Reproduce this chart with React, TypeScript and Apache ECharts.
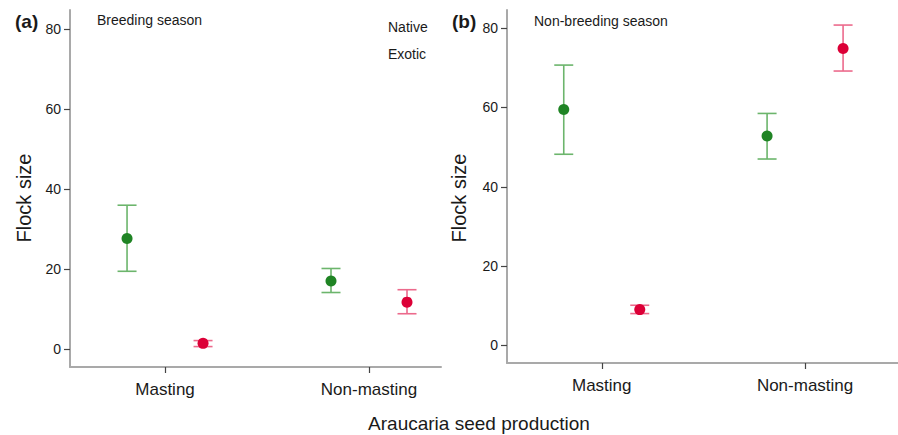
import React, { useEffect, useRef } from "react";
import * as echarts from "echarts";

const categories = ["Masting", "Non-masting"];
const yTicks = [0, 20, 40, 60, 80];

// Breeding season (a)
const breedingNativeMean = [27.7, 17.1];
const breedingNativeLow = [19.5, 14.2];
const breedingNativeHigh = [36.0, 20.2];
const breedingExoticMean = [1.5, 11.8];
const breedingExoticLow = [0.7, 8.9];
const breedingExoticHigh = [2.2, 14.9];

// Non-breeding season (b)
const nonBreedingNativeMean = [59.5, 52.8];
const nonBreedingNativeLow = [48.2, 47.0];
const nonBreedingNativeHigh = [70.7, 58.5];
const nonBreedingExoticMean = [9.0, 74.9];
const nonBreedingExoticLow = [8.0, 69.2];
const nonBreedingExoticHigh = [10.1, 80.8];

const GREEN = "#1f8424";
const GREEN_LINE = "#6cb56c";
const RED = "#dc0037";
const RED_LINE = "#ec6a8c";
const TEXT = "#1a1a1a";
const FONT = "'Liberation Sans', Arial, sans-serif";

function rows(mean: number[], low: number[], high: number[]) {
  return categories.map((_, i) => [i + 1, mean[i], low[i], high[i]]);
}

function errSeries(name: string, idx: number, data: number[][], color: string, offset: number) {
  return {
    name,
    type: "custom",
    xAxisIndex: idx,
    yAxisIndex: idx,
    encode: { x: 0, y: [2, 3] },
    data,
    renderItem: (_params: any, api: any) => {
      const x = api.value(0);
      const pLo = api.coord([x, api.value(2)]);
      const pHi = api.coord([x, api.value(3)]);
      const cx = pLo[0] + offset;
      const w = 9.5;
      const style = { stroke: color, lineWidth: 1.6 };
      return {
        type: "group",
        children: [
          { type: "line", shape: { x1: cx, y1: pHi[1], x2: cx, y2: pLo[1] }, style },
          { type: "line", shape: { x1: cx - w, y1: pHi[1], x2: cx + w, y2: pHi[1] }, style },
          { type: "line", shape: { x1: cx - w, y1: pLo[1], x2: cx + w, y2: pLo[1] }, style },
        ],
      };
    },
    z: 2,
  };
}

function meanSeries(name: string, idx: number, data: number[][], color: string, offset: number) {
  return {
    name,
    type: "scatter",
    xAxisIndex: idx,
    yAxisIndex: idx,
    data: data.map((r) => [r[0], r[1]]),
    symbol: "circle",
    symbolSize: 11,
    symbolOffset: [offset, 0],
    itemStyle: { color, opacity: 1 },
    z: 3,
  };
}

function xAxisCfg(idx: number, min: number, max: number) {
  return {
    type: "value",
    gridIndex: idx,
    min,
    max,
    axisLine: { show: true, onZero: false, lineStyle: { color: "#a9a9a9", width: 2 } },
    axisTick: { show: true, customValues: [1, 2], length: 6, lineStyle: { color: "#444", width: 1.2 } },
    axisLabel: {
      customValues: [1, 2],
      formatter: (v: number) => categories[Math.round(v) - 1] || "",
      color: TEXT,
      fontFamily: FONT,
      fontSize: 17,
      margin: 14,
    },
    splitLine: { show: false },
  };
}

function yAxisCfg(idx: number, min: number, max: number) {
  return {
    type: "value",
    gridIndex: idx,
    min,
    max,
    axisLine: { show: true, onZero: false, lineStyle: { color: "#a9a9a9", width: 2 } },
    axisTick: { show: true, customValues: yTicks, length: 6, lineStyle: { color: "#444", width: 1.2 } },
    axisLabel: {
      customValues: yTicks,
      color: TEXT,
      fontFamily: FONT,
      fontSize: 14,
      margin: 9,
    },
    splitLine: { show: false },
  };
}

function txt(x: number, y: number, text: string, size: number, extra: any = {}) {
  return {
    type: "text",
    x,
    y,
    ...extra,
    style: {
      text,
      fill: TEXT,
      font: `${extra.bold ? "bold " : ""}${size}px ${FONT}`,
      align: extra.align || "left",
      verticalAlign: "middle",
    },
  };
}

export default function App() {
  const ref = useRef<HTMLDivElement>(null);
  useEffect(() => {
    document.body.style.margin = "0";
    const chart = echarts.init(ref.current!, undefined, { renderer: "svg" });
    const offN = -38;
    const offE = 38;
    chart.setOption({
      animation: false,
      backgroundColor: "#ffffff",
      textStyle: { fontFamily: FONT },
      legend: {
        data: ["Native", "Exotic"],
        icon: "none",
        orient: "vertical",
        left: 378,
        top: 15,
        itemWidth: 0,
        itemHeight: 14,
        itemGap: 13,
        selectedMode: false,
        textStyle: { color: TEXT, fontSize: 14, fontFamily: FONT },
      },
      grid: [
        { left: 70, top: 10, width: 371, height: 357 },
        { left: 507, top: 10, width: 391, height: 353 },
      ],
      xAxis: [xAxisCfg(0, 0.534, 2.353), xAxisCfg(1, 0.534, 2.457)],
      yAxis: [yAxisCfg(0, -4.4, 84.75), yAxisCfg(1, -4.47, 84.6)],
      series: [
        errSeries("Native", 0, rows(breedingNativeMean, breedingNativeLow, breedingNativeHigh), GREEN_LINE, offN),
        errSeries("Exotic", 0, rows(breedingExoticMean, breedingExoticLow, breedingExoticHigh), RED_LINE, offE),
        errSeries("Native", 1, rows(nonBreedingNativeMean, nonBreedingNativeLow, nonBreedingNativeHigh), GREEN_LINE, offN),
        errSeries("Exotic", 1, rows(nonBreedingExoticMean, nonBreedingExoticLow, nonBreedingExoticHigh), RED_LINE, offE),
        meanSeries("Native", 0, rows(breedingNativeMean, breedingNativeLow, breedingNativeHigh), GREEN, offN),
        meanSeries("Exotic", 0, rows(breedingExoticMean, breedingExoticLow, breedingExoticHigh), RED, offE),
        meanSeries("Native", 1, rows(nonBreedingNativeMean, nonBreedingNativeLow, nonBreedingNativeHigh), GREEN, offN),
        meanSeries("Exotic", 1, rows(nonBreedingExoticMean, nonBreedingExoticLow, nonBreedingExoticHigh), RED, offE),
      ],
      graphic: [
        txt(15, 21, "(a)", 19, { bold: true }),
        txt(452, 21, "(b)", 19, { bold: true }),
        txt(97, 20, "Breeding season", 14),
        txt(534, 21, "Non-breeding season", 14),
        txt(24, 198, "Flock size", 20, { rotation: Math.PI / 2, align: "center" }),
        txt(459, 198, "Flock size", 20, { rotation: Math.PI / 2, align: "center" }),
        txt(479, 423, "Araucaria seed production", 19, { align: "center" }),
      ],
    });
    return () => chart.dispose();
  }, []);
  return <div ref={ref} style={{ width: 898, height: 435 }} />;
}
